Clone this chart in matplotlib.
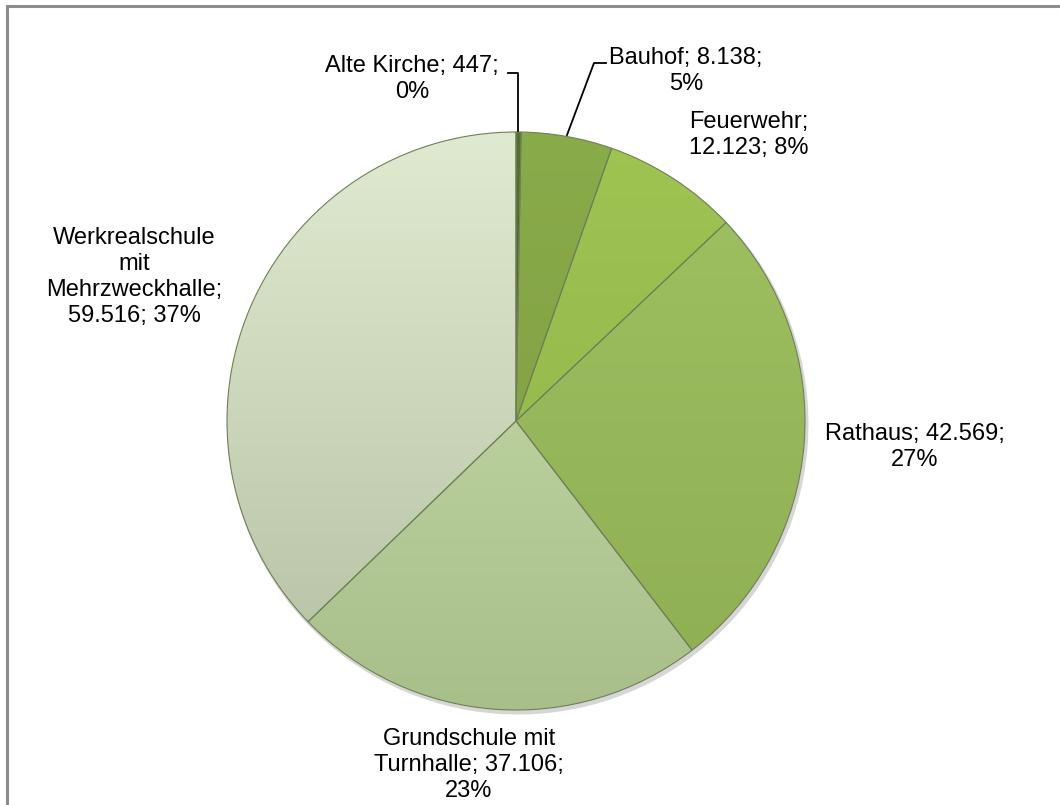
import numpy as np
import matplotlib.pyplot as plt
from matplotlib.colors import to_rgb

plt.rcParams['font.family'] = ['Liberation Sans', 'DejaVu Sans']

# data
objekte = ['Alte Kirche', 'Bauhof', 'Feuerwehr', 'Rathaus',
           'Grundschule mit Turnhalle', 'Werkrealschule mit Mehrzweckhalle']
werte = [447, 8138, 12123, 42569, 37106, 59516]
prozent = [0, 5, 8, 27, 23, 37]

# colours (top, bottom) for a simple vertical shading
farben = [('#55702a', '#4a6224'),
          ('#8aab4a', '#7d9c40'),
          ('#9fc452', '#8fb247'),
          ('#a0c262', '#8eae52'),
          ('#cbdfae', '#a9bf8a'),
          ('#e0ead0', '#b4c0a2')]

W, H = 1060, 805
dpi = 100
fig = plt.figure(figsize=(W / dpi, H / dpi), dpi=dpi)
ax = fig.add_axes([0, 0, 1, 1])
ax.set_xlim(0, W)
ax.set_ylim(0, H)
ax.axis('off')

# chart frame (only top and left visible)
ax.plot([6.5, 6.5], [0, H - 6.5], color='#8c8c8c', lw=2.2)
ax.plot([6.5, W], [H - 6.5, H - 6.5], color='#8c8c8c', lw=2.2)

cx, cy, r = 516, H - 421, 289

# soft shadow
ax.pie(werte, center=(cx + 2, cy - 3), radius=r + 1.5, startangle=90,
       counterclock=False, colors=['#d6d6d6'] * len(werte),
       wedgeprops=dict(linewidth=0))

wedges, _ = ax.pie(werte, center=(cx, cy), radius=r, startangle=90,
                   counterclock=False, colors=[f[0] for f in farben],
                   wedgeprops=dict(linewidth=0.8, edgecolor='#6f7f58'))
ax.set_xlim(0, W)
ax.set_ylim(0, H)
ax.set_aspect('equal')

# vertical gradient inside each wedge
t = np.linspace(0, 1, 256)[:, None]
for w, (top, bot) in zip(wedges, farben):
    c1, c2 = np.array(to_rgb(top)), np.array(to_rgb(bot))
    img = (c1[None, None, :] * (1 - t[:, :, None]) + c2[None, None, :] * t[:, :, None])
    img = np.repeat(img, 2, axis=1)
    im = ax.imshow(img, extent=(cx - r, cx + r, cy - r, cy + r), origin='upper',
                   aspect='auto', zorder=w.get_zorder() + 0.1)
    im.set_clip_path(w)
    w.set_facecolor('none')
    w.set_zorder(w.get_zorder() + 0.2)

def zahl(v):
    return f'{v:,}'.replace(',', '.')

fs = 17
def lab(text, x, y, ha='center'):
    ax.text(x, H - y, text, fontsize=fs, ha=ha, va='center',
            linespacing=1.22, color='black')

lab(f'{objekte[0]}; {zahl(werte[0])};\n{prozent[0]}%', 412, 79)
lab(f'{objekte[1]}; {zahl(werte[1])};\n{prozent[1]}%', 686, 71)
lab(f'{objekte[2]};\n{zahl(werte[2])}; {prozent[2]}%', 749, 135)
lab(f'{objekte[3]}; {zahl(werte[3])};\n{prozent[3]}%', 915, 447)
lab(f'Grundschule mit\nTurnhalle; {zahl(werte[4])};\n{prozent[4]}%', 469, 765)
lab(f'Werkrealschule\nmit\nMehrzweckhalle;\n{zahl(werte[5])}; {prozent[5]}%', 134, 277)

# leader lines
ax.plot([508, 518, 518], [H - 73, H - 73, H - 131], color='black', lw=1.3, zorder=10)
ax.plot([606, 594, 567], [H - 63, H - 63, H - 135], color='black', lw=1.3, zorder=10)

fig.savefig('out.png', dpi=dpi)
